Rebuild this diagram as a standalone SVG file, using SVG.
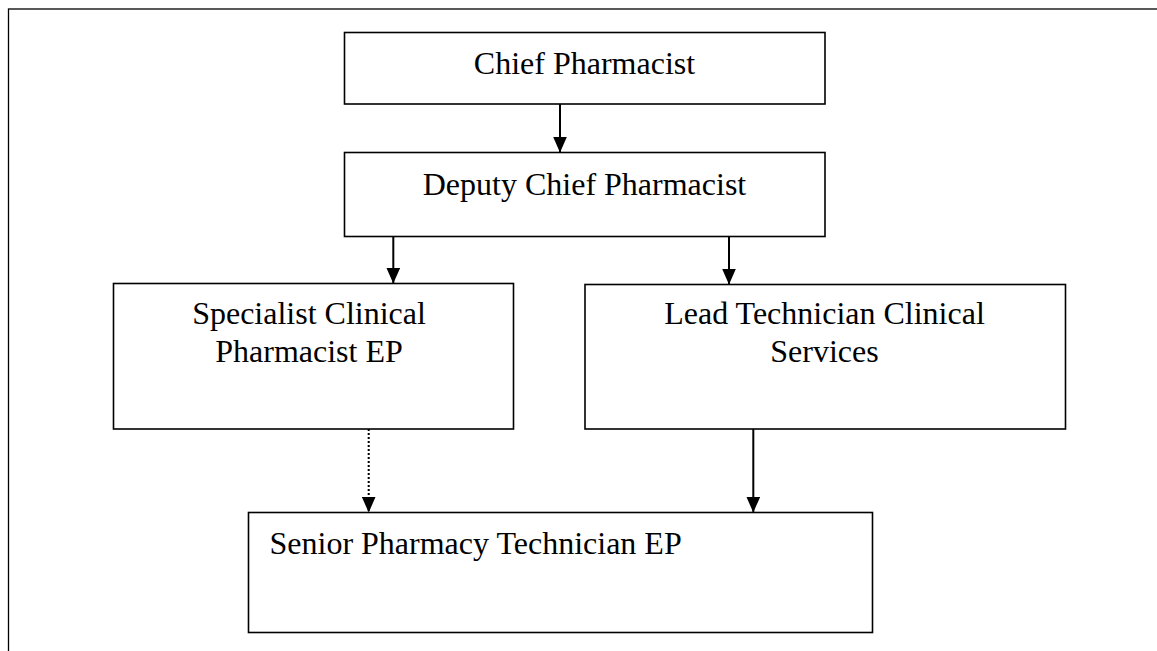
<svg xmlns="http://www.w3.org/2000/svg" width="1157" height="651" viewBox="0 0 1157 651">
<style>
.box{fill:#fff;stroke:#000;stroke-width:1.6}
.t{font-family:"Liberation Serif","Times New Roman",serif;font-size:32px;fill:#000}
.c{text-anchor:middle}
.ln{stroke:#000;stroke-width:2;fill:none}
.dot{stroke-dasharray:2 2}
</style>
<defs>
<marker id="ah" markerWidth="16" markerHeight="14" refX="16" refY="7" orient="auto" markerUnits="userSpaceOnUse" viewBox="0 0 16 14">
<path d="M0,0 L16,7 L0,14 Z" fill="#000" stroke="none"/>
</marker>
</defs>
<rect x="0" y="0" width="1157" height="651" fill="#fff"/>
<rect x="8.5" y="9" width="1160" height="660" fill="none" stroke="#000" stroke-width="1.3"/>
<g id="chief">
<rect class="box" x="344.5" y="32.5" width="480.5" height="71.5"/>
<text class="t c" x="584.5" y="73.5">Chief Pharmacist</text>
</g>
<g id="deputy">
<rect class="box" x="344.5" y="152.5" width="480.5" height="84"/>
<text class="t c" x="584.5" y="195">Deputy Chief Pharmacist</text>
</g>
<g id="specialist">
<rect class="box" x="113.5" y="283.5" width="400" height="145.5"/>
<text class="t c" x="309" y="324">Specialist Clinical</text>
<text class="t c" x="309" y="361.5">Pharmacist EP</text>
</g>
<g id="lead">
<rect class="box" x="585" y="284.5" width="480.5" height="144.5"/>
<text class="t c" x="824.5" y="324">Lead Technician Clinical</text>
<text class="t c" x="824.5" y="361.5">Services</text>
</g>
<g id="senior">
<rect class="box" x="248.5" y="512.5" width="624" height="120"/>
<text class="t" x="269.5" y="553.5">Senior Pharmacy Technician EP</text>
</g>
<g id="connectors">
<line class="ln" x1="560" y1="104" x2="560" y2="152.5" marker-end="url(#ah)"/>
<line class="ln" x1="393.3" y1="236.5" x2="393.3" y2="283.5" marker-end="url(#ah)"/>
<line class="ln" x1="729" y1="236.5" x2="729" y2="284.5" marker-end="url(#ah)"/>
<line class="ln dot" x1="368.7" y1="429" x2="368.7" y2="512.5" marker-end="url(#ah)"/>
<line class="ln" x1="753.3" y1="429" x2="753.3" y2="512.5" marker-end="url(#ah)"/>
</g>
</svg>
